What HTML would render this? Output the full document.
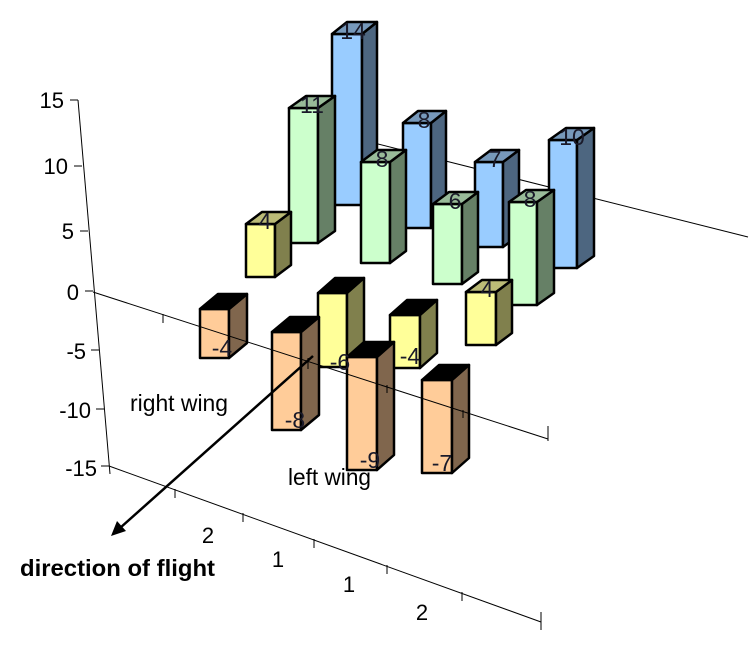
<!DOCTYPE html>
<html><head><meta charset="utf-8"><style>
html,body{margin:0;padding:0;background:#fff;}
svg{display:block;}
text{font-family:"Liberation Sans",Arial,sans-serif;}
</style></head><body>
<svg width="755" height="646" viewBox="0 0 755 646" xmlns="http://www.w3.org/2000/svg">
<g stroke="#000" stroke-width="1" fill="none">
<polyline points="78,100 110,474"/>
<line x1="70" y1="100" x2="78" y2="100"/><line x1="74" y1="166" x2="82" y2="166"/>
<line x1="80" y1="231" x2="88" y2="231"/><line x1="85" y1="291" x2="93" y2="291"/>
<line x1="91" y1="350" x2="99" y2="350"/><line x1="96" y1="409" x2="104" y2="409"/>
<line x1="101" y1="466" x2="109" y2="466"/>
<line x1="370" y1="142" x2="748" y2="237"/>
<line x1="109" y1="466" x2="541" y2="622"/>
<line x1="175" y1="489" x2="175" y2="498"/><line x1="243" y1="513" x2="243" y2="522"/>
<line x1="314" y1="539" x2="314" y2="548"/><line x1="387" y1="565" x2="387" y2="574"/>
<line x1="462" y1="592" x2="462" y2="601"/><line x1="541" y1="612" x2="541" y2="630"/>
</g>
<g stroke="#000" stroke-width="2.5" stroke-linejoin="round">
<polygon fill="#99ccff" points="332,34 362,34 362,205 332,205"/><polygon fill="#4d6680" points="362,34 377,22 377,193 362,205"/><polygon fill="#7799bb" points="332,34 362,34 377,22 347,22"/>
<polygon fill="#99ccff" points="403,123 431,123 431,228 403,228"/><polygon fill="#4d6680" points="431,123 446,111 446,216 431,228"/><polygon fill="#7799bb" points="403,123 431,123 446,111 418,111"/>
<polygon fill="#99ccff" points="475,162 503,162 503,247 475,247"/><polygon fill="#4d6680" points="503,162 519,150 519,235 503,247"/><polygon fill="#7799bb" points="475,162 503,162 519,150 491,150"/>
<polygon fill="#99ccff" points="549,140 577,140 577,268 549,268"/><polygon fill="#4d6680" points="577,140 594,128 594,256 577,268"/><polygon fill="#7799bb" points="549,140 577,140 594,128 566,128"/>
<polygon fill="#ccffcc" points="289,108 318,108 318,243 289,243"/><polygon fill="#668066" points="318,108 335,96 335,231 318,243"/><polygon fill="#99bb99" points="289,108 318,108 335,96 306,96"/>
<polygon fill="#ccffcc" points="361,162 390,162 390,263 361,263"/><polygon fill="#668066" points="390,162 406,150 406,251 390,263"/><polygon fill="#99bb99" points="361,162 390,162 406,150 377,150"/>
<polygon fill="#ccffcc" points="433,204 462,204 462,284 433,284"/><polygon fill="#668066" points="462,204 478,192 478,272 462,284"/><polygon fill="#99bb99" points="433,204 462,204 478,192 449,192"/>
<polygon fill="#ccffcc" points="509,202 537,202 537,305 509,305"/><polygon fill="#668066" points="537,202 554,190 554,293 537,305"/><polygon fill="#99bb99" points="509,202 537,202 554,190 526,190"/>
<polygon fill="#ffff99" points="246,224 275,224 275,277 246,277"/><polygon fill="#80804d" points="275,224 291,212 291,265 275,277"/><polygon fill="#bbbb77" points="246,224 275,224 291,212 262,212"/>
<polygon fill="#ffff99" points="466,292 496,292 496,345 466,345"/><polygon fill="#80804d" points="496,292 512,280 512,333 496,345"/><polygon fill="#bbbb77" points="466,292 496,292 512,280 482,280"/>
<polygon fill="#ffcc99" points="200,309 229,309 229,358 200,358"/><polygon fill="#80664d" points="229,309 247,294 247,343 229,358"/><polygon fill="#000" points="200,309 229,309 247,294 218,294"/>
<polygon fill="#ffff99" points="318,293 347,293 347,367 318,367"/><polygon fill="#80804d" points="347,293 364,278 364,352 347,367"/><polygon fill="#000" points="318,293 347,293 364,278 335,278"/>
<polygon fill="#ffff99" points="390,315 420,315 420,368 390,368"/><polygon fill="#80804d" points="420,315 437,300 437,353 420,368"/><polygon fill="#000" points="390,315 420,315 437,300 407,300"/>
<polygon fill="#ffcc99" points="272,332 301,332 301,430 272,430"/><polygon fill="#80664d" points="301,332 319,317 319,415 301,430"/><polygon fill="#000" points="272,332 301,332 319,317 290,317"/>
<polygon fill="#ffcc99" points="347,357 377,357 377,470 347,470"/><polygon fill="#80664d" points="377,357 394,342 394,455 377,470"/><polygon fill="#000" points="347,357 377,357 394,342 364,342"/>
<polygon fill="#ffcc99" points="422,380 452,380 452,473 422,473"/><polygon fill="#80664d" points="452,380 469,365 469,458 452,473"/><polygon fill="#000" points="422,380 452,380 469,365 439,365"/>
</g>
<g stroke="#000" stroke-width="1">
<line x1="93" y1="292" x2="548" y2="439"/>
<line x1="163" y1="314" x2="163" y2="323"/><line x1="200" y1="309" x2="200" y2="324"/>
<line x1="308" y1="358" x2="308" y2="369"/><line x1="387" y1="385" x2="387" y2="393"/>
<line x1="463" y1="410" x2="463" y2="418"/><line x1="548" y1="426" x2="548" y2="441"/>
</g>
<line x1="313" y1="356" x2="120" y2="528" stroke="#000" stroke-width="2.5"/>
<polygon points="111,536 117,521 126,531" fill="#000"/>
<g font-size="23" fill="#1a1a2a" text-anchor="middle">
<text x="353" y="39">14</text><text x="312" y="113">11</text><text x="424" y="128">8</text>
<text x="382" y="167">8</text><text x="495" y="167">7</text><text x="455" y="209">6</text>
<text x="572" y="145">10</text><text x="530" y="207">8</text><text x="265" y="229">4</text>
<text x="487" y="297">4</text>
<text x="222" y="356">-4</text><text x="340" y="370">-6</text><text x="410" y="364">-4</text>
<text x="295" y="428">-8</text><text x="370" y="468">-9</text><text x="442" y="471">-7</text>
</g>
<g font-size="22" fill="#000" text-anchor="end">
<text x="64" y="108">15</text><text x="68" y="174">10</text><text x="74" y="239">5</text>
<text x="79" y="300">0</text><text x="86" y="359">-5</text><text x="91" y="418">-10</text>
<text x="97" y="476">-15</text>
</g>
<g font-size="22" fill="#000" text-anchor="middle">
<text x="208" y="543">2</text><text x="278" y="567">1</text><text x="349" y="592">1</text><text x="422" y="620">2</text>
</g>
<text x="130" y="411" font-size="23" fill="#000" textLength="98" lengthAdjust="spacingAndGlyphs">right wing</text>
<text x="288" y="485" font-size="23" fill="#000" textLength="83" lengthAdjust="spacingAndGlyphs">left wing</text>
<text x="20" y="576" font-size="23" font-weight="bold" fill="#000" textLength="195" lengthAdjust="spacingAndGlyphs">direction of flight</text>
</svg>
</body></html>
